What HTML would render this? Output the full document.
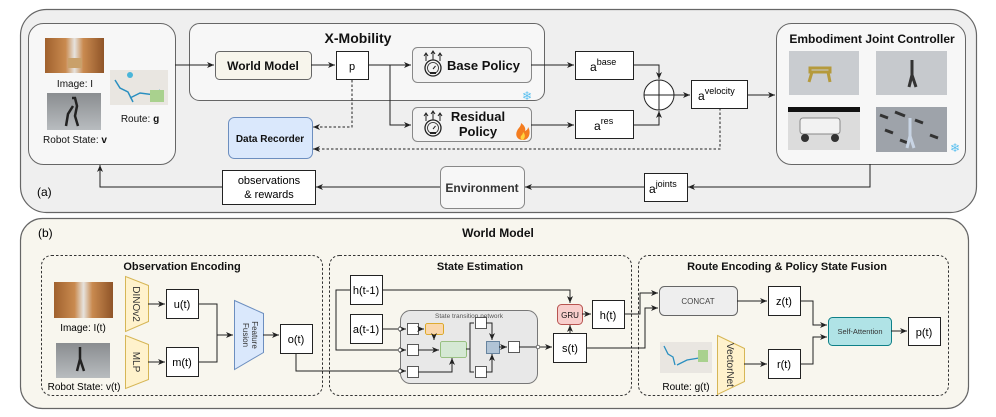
<!DOCTYPE html>
<html><head><meta charset="utf-8"><style>
html,body{margin:0;padding:0;background:#fff}
svg{display:block;font-family:"Liberation Sans",sans-serif}
</style></head><body>
<svg width="996" height="417" viewBox="0 0 996 417" xmlns="http://www.w3.org/2000/svg">
<defs>
<marker id="ar" markerWidth="8" markerHeight="8" refX="7" refY="4" orient="auto" markerUnits="userSpaceOnUse"><path d="M0,1 L7,4 L0,7 L2,4 z" fill="#222"/></marker>
<g id="gauge">
<circle cx="0" cy="6" r="8" fill="none" stroke="#222" stroke-width="1.3"/>
<circle cx="0" cy="6" r="5.5" fill="none" stroke="#222" stroke-width="0.8"/>
<line x1="0" y1="7" x2="2.5" y2="4" stroke="#222" stroke-width="1"/>
<rect x="-3" y="10" width="6" height="2" fill="#222"/>
<path d="M-7,-1 v-7 M-9,-6 l2,-3 l2,3 M0,-2 v-8 M-2,-8 l2,-3 l2,3 M7,-1 v-7 M5,-6 l2,-3 l2,3" stroke="#222" fill="none" stroke-width="1"/>
</g>
<linearGradient id="wh" x1="0" x2="1"><stop offset="0" stop-color="#a0612e"/><stop offset="0.35" stop-color="#c98a4f"/><stop offset="0.5" stop-color="#e6e3de"/><stop offset="0.65" stop-color="#c98a4f"/><stop offset="1" stop-color="#8f5428"/></linearGradient>
<linearGradient id="rb" x1="0" y1="0" x2="0" y2="1"><stop offset="0" stop-color="#8a8d90"/><stop offset="1" stop-color="#b8bcbf"/></linearGradient>
</defs>

<!-- Panel (a) -->
<rect x="20.5" y="9.5" width="956" height="203" rx="26" fill="#efefef" stroke="#666" stroke-width="1.2"/>
<rect x="28.5" y="23.5" width="147" height="141" rx="15" fill="#f7f7f7" stroke="#666"/>
<rect x="45" y="38" width="59" height="35" fill="url(#wh)"/>
<rect x="68" y="58" width="14" height="10" fill="#c9a06a"/>
<text x="75" y="87" font-size="10" text-anchor="middle" fill="#111">Image: I</text>
<rect x="47" y="93" width="54" height="37" fill="url(#rb)"/>
<path d="M72,98 l3,0 l2,8 l-2,10 l3,10 M73,106 l-5,8 l-2,12" stroke="#222" stroke-width="2.5" fill="none"/>
<text x="75" y="143" font-size="10" text-anchor="middle" fill="#111">Robot State: <tspan font-weight="bold">v</tspan></text>
<rect x="110" y="70" width="58" height="35" fill="#e9e6e1"/>
<path d="M115,80 l5,8 l8,4 l5,10 M130,98 l10,-5 l15,2 l5,-5" stroke="#2a8fc0" stroke-width="1.5" fill="none"/>
<rect x="150" y="90" width="14" height="12" fill="#a9d18e"/>
<circle cx="130" cy="75" r="3" fill="#49b5d9"/>
<text x="140" y="122" font-size="10" text-anchor="middle" fill="#111">Route: <tspan font-weight="bold">g</tspan></text>

<rect x="189.5" y="23.5" width="355" height="77" rx="10" fill="#f7f7f7" stroke="#666"/>
<text x="358" y="43" font-size="14" font-weight="bold" text-anchor="middle" fill="#111">X-Mobility</text>
<rect x="215.5" y="51.5" width="96" height="28" rx="4" fill="#f7f5ec" stroke="#666"/>
<text x="263" y="70" font-size="12" font-weight="bold" text-anchor="middle" fill="#111">World Model</text>
<rect x="336.5" y="51.5" width="32" height="28" fill="#fff" stroke="#222"/>
<text x="352" y="70" font-size="11" text-anchor="middle">p</text>
<rect x="412.5" y="47.5" width="119" height="35" rx="5" fill="#f3f3f3" stroke="#888"/>
<use href="#gauge" x="433" y="62"/>
<text x="447" y="70" font-size="13" font-weight="bold" fill="#111">Base Policy</text>
<text x="527" y="100" font-size="12" text-anchor="middle" fill="#5bc0f0">❄</text>
<rect x="412.5" y="107.5" width="119" height="34" rx="5" fill="#f3f3f3" stroke="#888"/>
<use href="#gauge" x="433" y="122"/>
<text x="478" y="121" font-size="13" font-weight="bold" text-anchor="middle" fill="#111">Residual</text>
<text x="478" y="136" font-size="13" font-weight="bold" text-anchor="middle" fill="#111">Policy</text>
<path d="M523,140 c-6,0 -8,-5 -6,-9 c1,-3 4,-4 4,-8 c3,2 5,5 4,8 c2,-1 3,-2 3,-4 c3,4 2,13 -5,13z" fill="#f47d20"/>
<path d="M523,140 c-2,0 -3,-2 -2,-4 c1,-1 2,-2 2,-4 c2,2 3,5 0,8z" fill="#ffd23c"/>

<rect x="228.5" y="117.5" width="84" height="41" rx="6" fill="#dae8fc" stroke="#6c8ebf"/>
<text x="270" y="142" font-size="10" font-weight="bold" text-anchor="middle" fill="#111">Data Recorder</text>

<rect x="575.5" y="51.5" width="58" height="28" fill="#fff" stroke="#222"/>
<text x="590" y="71" font-size="12">a<tspan font-size="9" dy="-6">base</tspan></text>
<rect x="575.5" y="110.5" width="58" height="28" fill="#fff" stroke="#222"/>
<text x="594" y="130" font-size="12">a<tspan font-size="9" dy="-6">res</tspan></text>
<circle cx="659" cy="95" r="15" fill="#fff" stroke="#222"/>
<path d="M644,95 h30 M659,80 v30" stroke="#222"/>
<rect x="691.5" y="80.5" width="56" height="28" fill="#fff" stroke="#222"/>
<text x="698" y="100" font-size="12">a<tspan font-size="9" dy="-6">velocity</tspan></text>

<rect x="776.5" y="23.5" width="189" height="141" rx="15" fill="#f7f7f7" stroke="#666"/>
<text x="872" y="43" font-size="12" font-weight="bold" text-anchor="middle" fill="#111">Embodiment Joint Controller</text>
<rect x="789" y="51" width="70" height="44" fill="#c9ccd0"/>
<path d="M810,72 h20 v-4 h-20z M812,72 l-3,10 M828,72 l2,10" stroke="#b59a3c" stroke-width="3" fill="none"/>
<rect x="876" y="51" width="71" height="44" fill="#c6c9cd"/>
<path d="M912,60 v15 l-3,12 M912,75 l4,12" stroke="#333" stroke-width="3" fill="none"/>
<rect x="788" y="107" width="72" height="43" fill="#dcdcdc"/>
<rect x="788" y="107" width="72" height="5" fill="#111"/>
<rect x="800" y="118" width="40" height="16" rx="3" fill="#f2f2f2" stroke="#888"/>
<circle cx="805" cy="138" r="4" fill="#333"/><circle cx="835" cy="138" r="4" fill="#333"/>
<rect x="876" y="107" width="71" height="45" fill="#9ea3aa"/>
<path d="M880,115 l8,3 M895,112 l10,4 M915,120 l8,3 M885,130 l8,3 M930,135 l8,3 M900,140 l8,3" stroke="#333" stroke-width="3"/>
<path d="M910,118 v18 l-3,12 M910,136 l4,12" stroke="#c8d4e4" stroke-width="3" fill="none"/>
<text x="955" y="152" font-size="12" text-anchor="middle" fill="#5bc0f0">❄</text>

<rect x="440.5" y="166.5" width="84" height="42" rx="6" fill="#f7f7f7" stroke="#888"/>
<text x="482" y="192" font-size="12" font-weight="bold" text-anchor="middle" fill="#333">Environment</text>
<rect x="644.5" y="173.5" width="43" height="28" fill="#fff" stroke="#222"/>
<text x="649" y="193" font-size="12">a<tspan font-size="9" dy="-6">joints</tspan></text>
<rect x="222.5" y="170.5" width="93" height="34" fill="#fff" stroke="#222"/>
<text x="269" y="184" font-size="11" text-anchor="middle">observations</text>
<text x="269" y="198" font-size="11" text-anchor="middle">&amp; rewards</text>
<text x="37" y="196" font-size="12">(a)</text>

<g stroke="#222" fill="none" stroke-width="1">
<path d="M175,65 H214" marker-end="url(#ar)"/>
<path d="M311,65 H335" marker-end="url(#ar)"/>
<path d="M368,65 H411" marker-end="url(#ar)"/>
<path d="M390,65 V125 H411" marker-end="url(#ar)"/>
<path d="M531,65 H574" marker-end="url(#ar)"/>
<path d="M531,125 H574" marker-end="url(#ar)"/>
<path d="M633,65 H659 V79" marker-end="url(#ar)"/>
<path d="M633,125 H659 V111" marker-end="url(#ar)"/>
<path d="M674,95 H690" marker-end="url(#ar)"/>
<path d="M747,95 H775" marker-end="url(#ar)"/>
<path d="M870,164 V187 H688" marker-end="url(#ar)"/>
<path d="M644,187 H525" marker-end="url(#ar)"/>
<path d="M440,187 H316" marker-end="url(#ar)"/>
<path d="M222,187 H100 V165" marker-end="url(#ar)"/>
<path d="M352,80 V127 H313" stroke-dasharray="2.5,2" marker-end="url(#ar)"/>
<path d="M720,108 V149 H313" stroke-dasharray="2.5,2" marker-end="url(#ar)"/>
</g>

<!-- Panel (b) -->
<rect x="20.5" y="218.5" width="948" height="190" rx="22" fill="#f8f6ee" stroke="#666" stroke-width="1.2"/>
<text x="38" y="237" font-size="12">(b)</text>
<text x="498" y="237" font-size="12" font-weight="bold" text-anchor="middle" fill="#111">World Model</text>
<g fill="none" stroke="#333" stroke-dasharray="2.5,2">
<rect x="41.5" y="255.5" width="281" height="140" rx="10"/>
<rect x="329.5" y="255.5" width="302" height="140" rx="10"/>
<rect x="638.5" y="255.5" width="310" height="140" rx="10"/>
</g>
<g font-size="11" font-weight="bold" text-anchor="middle" fill="#111">
<text x="182" y="270">Observation Encoding</text>
<text x="480" y="270">State Estimation</text>
<text x="787" y="270">Route Encoding &amp; Policy State Fusion</text>
</g>
<rect x="54" y="282" width="59" height="36" fill="url(#wh)"/>
<text x="83" y="331" font-size="10" text-anchor="middle">Image: I(t)</text>
<rect x="56" y="343" width="54" height="35" fill="url(#rb)"/>
<path d="M80,347 v12 l-3,12 M80,359 l4,12" stroke="#222" stroke-width="2.5" fill="none"/>
<text x="84" y="390" font-size="10" text-anchor="middle">Robot State: v(t)</text>
<path d="M125.5,276.5 L148.5,285.5 V321.5 L125.5,331.5 z" fill="#fff2cc" stroke="#d6b656"/>
<text transform="translate(133,304) rotate(90)" font-size="10" text-anchor="middle" fill="#333">DINOv2</text>
<path d="M125.5,335.5 L148.5,344.5 V379.5 L125.5,388.5 z" fill="#fff2cc" stroke="#d6b656"/>
<text transform="translate(133,362) rotate(90)" font-size="10" text-anchor="middle" fill="#333">MLP</text>
<rect x="166.5" y="289.5" width="32" height="29" fill="#fff" stroke="#222"/>
<text x="182" y="308" font-size="11" text-anchor="middle">u(t)</text>
<rect x="166.5" y="347.5" width="32" height="29" fill="#fff" stroke="#222"/>
<text x="182" y="366" font-size="11" text-anchor="middle">m(t)</text>
<path d="M234.5,300.5 L263.5,313.5 V352.5 L234.5,369.5 z" fill="#dae8fc" stroke="#6c8ebf"/>
<text transform="translate(252,335) rotate(90)" font-size="8" text-anchor="middle" fill="#333">Feature</text>
<text transform="translate(243,335) rotate(90)" font-size="8" text-anchor="middle" fill="#333">Fusion</text>
<rect x="280.5" y="324.5" width="32" height="29" fill="#fff" stroke="#222"/>
<text x="296" y="343" font-size="11" text-anchor="middle">o(t)</text>

<rect x="350.5" y="275.5" width="32" height="29" fill="#fff" stroke="#222"/>
<text x="366" y="294" font-size="11" text-anchor="middle">h(t-1)</text>
<rect x="350.5" y="314.5" width="32" height="29" fill="#fff" stroke="#222"/>
<text x="366" y="333" font-size="11" text-anchor="middle">a(t-1)</text>
<rect x="400.5" y="310.5" width="137" height="73" rx="10" fill="#e8e8e8" stroke="#777"/>
<text x="469" y="318" font-size="6.5" text-anchor="middle" fill="#555">State transition network</text>
<g fill="#fff" stroke="#333" stroke-width="0.8">
<rect x="407.5" y="323.5" width="11" height="11"/>
<rect x="407.5" y="344.5" width="11" height="11"/>
<rect x="407.5" y="366.5" width="11" height="11"/>
<rect x="475.5" y="317.5" width="11" height="11"/>
<rect x="475.5" y="366.5" width="11" height="11"/>
<rect x="508.5" y="341.5" width="11" height="11"/>
</g>
<rect x="425.5" y="323.5" width="18" height="11" rx="2" fill="#fad7ac" stroke="#d79b00" stroke-width="0.8"/>
<rect x="440.5" y="341.5" width="26" height="16" rx="2" fill="#d5e8d4" stroke="#82b366" stroke-width="0.8"/>
<rect x="486.5" y="341.5" width="13" height="12" fill="#b1c4d6" stroke="#4e6f8e" stroke-width="0.8"/>
<rect x="557.5" y="304.5" width="25" height="20" rx="4" fill="#f8cecc" stroke="#b85450"/>
<text x="570" y="318" font-size="8" text-anchor="middle" fill="#111">GRU</text>
<rect x="553.5" y="333.5" width="33" height="29" fill="#fff" stroke="#222"/>
<text x="570" y="352" font-size="11" text-anchor="middle">s(t)</text>
<rect x="592.5" y="300.5" width="32" height="28" fill="#fff" stroke="#222"/>
<text x="608" y="319" font-size="11" text-anchor="middle">h(t)</text>

<rect x="659.5" y="286.5" width="78" height="29" rx="5" fill="#eeeeee" stroke="#666"/>
<text x="698" y="304" font-size="8" text-anchor="middle" fill="#444">CONCAT</text>
<rect x="768.5" y="286.5" width="32" height="29" fill="#fff" stroke="#222"/>
<text x="784" y="305" font-size="11" text-anchor="middle">z(t)</text>
<rect x="828.5" y="317.5" width="63" height="28" rx="4" fill="#b0e3e6" stroke="#0e8088"/>
<text x="860" y="334" font-size="7.5" text-anchor="middle" fill="#333">Self-Attention</text>
<rect x="908.5" y="317.5" width="32" height="28" fill="#fff" stroke="#222"/>
<text x="924" y="336" font-size="11" text-anchor="middle">p(t)</text>
<rect x="660" y="342" width="52" height="31" fill="#e9e6e1"/>
<path d="M664,346 l4,8 l5,3 l2,8 M677,365 l10,-5 l12,-2" stroke="#2a8fc0" stroke-width="1.3" fill="none"/>
<rect x="698" y="350" width="10" height="12" fill="#a9d18e"/>
<text x="686" y="390" font-size="10" text-anchor="middle">Route: g(t)</text>
<path d="M717.5,335.5 L744.5,348.5 V381.5 L717.5,394.5 z" fill="#fff2cc" stroke="#d6b656"/>
<text transform="translate(727,365) rotate(90)" font-size="10" text-anchor="middle" fill="#333">VectorNet</text>
<rect x="768.5" y="349.5" width="32" height="29" fill="#fff" stroke="#222"/>
<text x="784" y="368" font-size="11" text-anchor="middle">r(t)</text>

<g stroke="#222" fill="none" stroke-width="1">
<path d="M148,304 H165" marker-end="url(#ar)"/>
<path d="M148,362 H165" marker-end="url(#ar)"/>
<path d="M198,304 H217 V335 M198,362 H217 V335 H233" marker-end="url(#ar)"/>
<path d="M263,335 H279" marker-end="url(#ar)"/>
<path d="M296,353 V371 H406" marker-end="url(#ar)"/>
<path d="M382,290 H570 V303" marker-end="url(#ar)"/>
<path d="M350,290 H336 V350 H406" marker-end="url(#ar)"/>
<path d="M382,329 H406" marker-end="url(#ar)"/>
<path d="M418,329 H424" marker-end="url(#ar)"/>
<path d="M434,335 V340" marker-end="url(#ar)"/>
<path d="M418,350 H439" marker-end="url(#ar)"/>
<path d="M418,372 H452 V358" marker-end="url(#ar)"/>
<path d="M466,349 H470 V323 H474 M470,349 V372 H474"/>
<path d="M486,323 H492 V340" marker-end="url(#ar)"/>
<path d="M486,372 H492 V354" marker-end="url(#ar)"/>
<path d="M499,347 H507" marker-end="url(#ar)"/>
<path d="M519,347 H552" marker-end="url(#ar)"/>
<path d="M570,333 V325" marker-end="url(#ar)"/>
<path d="M582,314 H591" marker-end="url(#ar)"/>
<path d="M624,314 H640 V293 H658" marker-end="url(#ar)"/>
<path d="M586,348 H645 V308 H658" marker-end="url(#ar)"/>
<path d="M737,301 H767" marker-end="url(#ar)"/>
<path d="M744,364 H767" marker-end="url(#ar)"/>
<path d="M800,301 H813 V325 H827" marker-end="url(#ar)"/>
<path d="M800,364 H813 V337 H827" marker-end="url(#ar)"/>
<path d="M891,331 H907" marker-end="url(#ar)"/>
</g>
<g fill="#fff" stroke="#333" stroke-width="0.7">
<circle cx="400" cy="329" r="1.8"/><circle cx="400" cy="350" r="1.8"/><circle cx="400" cy="371" r="1.8"/><circle cx="538" cy="347" r="1.8"/>
</g>
</svg>
</body></html>
